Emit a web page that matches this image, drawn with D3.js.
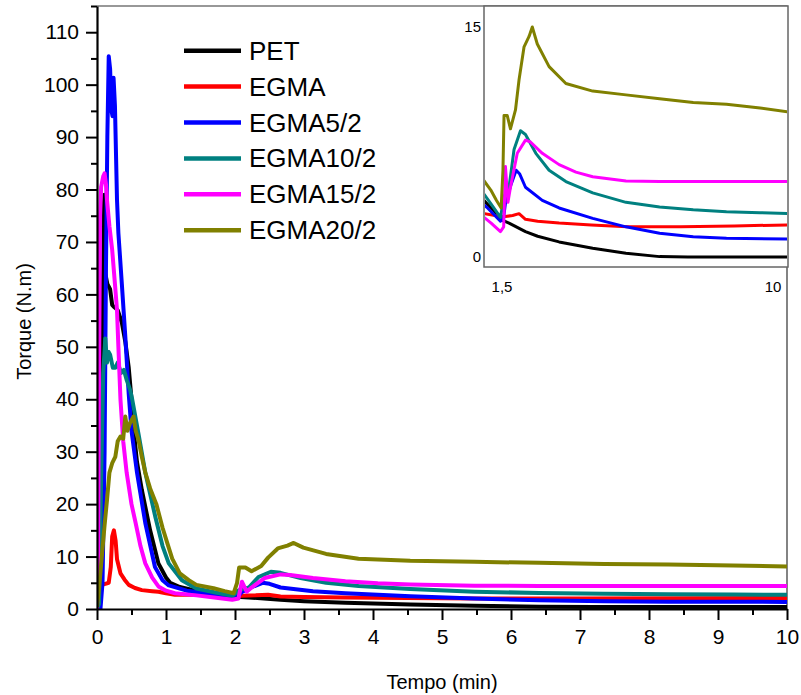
<!DOCTYPE html>
<html>
<head>
<meta charset="utf-8">
<script src="https://cdn.jsdelivr.net/npm/d3@7"></script>
<style>
  body { margin: 0; background: #fff; }
  svg { font-family: "Liberation Sans", Arial, sans-serif; }
</style>
</head>
<body>
<div id="chart"></div>
<script>
// data: [tempo (min), torque (N.m)]
var seriesNames = ["PET", "EGMA", "EGMA5/2", "EGMA10/2", "EGMA15/2", "EGMA20/2"];
var seriesColors = ["#000000", "#ff0000", "#0000ff", "#008080", "#ff00ff", "#808000"];

var petData = [[0,0],[0.03,0.5],[0.06,20],[0.085,60],[0.1,77],[0.106,79],[0.115,70],[0.12,64],[0.15,62],[0.19,61],[0.22,58],[0.24,57.7],[0.3,57],[0.36,54.6],[0.41,51],[0.46,46],[0.5,40],[0.54,33],[0.58,28],[0.65,22.7],[0.77,15],[0.89,8.7],[1.0,6],[1.06,5],[1.2,4.2],[1.4,3.6],[1.6,3.2],[1.8,2.8],[1.96,2.4],[2.2,2.2],[2.66,1.75],[3.0,1.5],[3.6,1.2],[4.54,0.86],[5.47,0.6],[6.41,0.42],[7.2,0.4],[10,0.4]];
var egmaData = [[0,0],[0.03,2],[0.07,4.6],[0.12,4.8],[0.17,5],[0.2,8],[0.22,13.8],[0.245,15],[0.27,13],[0.29,9.5],[0.34,6.8],[0.4,5.6],[0.46,4.6],[0.55,4],[0.65,3.6],[0.8,3.4],[0.89,3.3],[1.0,3.0],[1.13,2.7],[1.5,2.7],[1.96,2.55],[2.1,2.55],[2.3,2.6],[2.48,2.7],[2.66,2.4],[3.0,2.3],[3.6,2.2],[4.5,2.1],[5.5,2.0],[7,2.0],[8.5,2.05],[10,2.1]];
var egma5Data = [[0,0],[0.05,0],[0.08,5],[0.11,30],[0.13,65],[0.15,90],[0.17,105.4],[0.19,103],[0.21,95],[0.225,94],[0.24,101.3],[0.26,96],[0.29,78],[0.31,71.7],[0.36,62],[0.41,52],[0.46,41],[0.5,34],[0.58,26],[0.7,16.4],[0.84,8],[0.95,5.5],[1.04,4.5],[1.3,3.5],[1.6,3.0],[1.96,2.3],[2.05,2.5],[2.1,3.25],[2.25,4.2],[2.4,5.0],[2.5,4.8],[2.66,4.1],[3.13,3.4],[3.6,3.0],[4.54,2.45],[5.47,2.0],[6.41,1.66],[7.35,1.48],[8.28,1.4],[10,1.35]];
var egma10Data = [[0,0],[0.03,1],[0.06,25],[0.09,45],[0.12,51.6],[0.145,47],[0.17,49],[0.19,48.5],[0.23,46],[0.265,46],[0.3,47],[0.35,45],[0.39,45.6],[0.43,43.7],[0.48,41.8],[0.51,40],[0.6,33.5],[0.7,26],[0.845,17.6],[0.95,12],[1.04,8.7],[1.23,5.5],[1.44,3.9],[1.7,3.2],[1.96,2.5],[2.06,3.6],[2.2,4.1],[2.34,6.1],[2.52,7.1],[2.66,6.9],[2.95,5.9],[3.32,5.0],[3.79,4.4],[4.54,3.8],[5.47,3.3],[6.41,3.05],[7.35,2.9],[8.28,2.8],[9.22,2.75],[10,2.7]];
var egma15Data = [[0,0],[0.015,10],[0.03,45],[0.045,75],[0.06,80.5],[0.09,82.5],[0.11,83.1],[0.13,81],[0.145,78],[0.18,73],[0.22,68.5],[0.26,62],[0.29,57],[0.31,50],[0.34,40],[0.38,32],[0.43,26],[0.5,20],[0.56,16.4],[0.63,12],[0.7,8.7],[0.8,6],[0.89,4.3],[1.0,3.5],[1.13,3.0],[1.44,2.6],[1.7,2.2],[1.96,1.75],[2.05,2.0],[2.1,5.2],[2.17,3.3],[2.24,4.1],[2.43,5.9],[2.66,6.6],[2.8,6.5],[3.13,5.9],[3.6,5.3],[4.07,4.9],[4.54,4.66],[5.47,4.43],[6.41,4.4],[10,4.4]];
var egma20Data = [[0,0.4],[0.03,4],[0.07,10],[0.11,16],[0.145,20.8],[0.18,26],[0.22,27.8],[0.265,29],[0.3,32],[0.34,32.9],[0.38,32.5],[0.41,36.7],[0.44,34],[0.48,35.5],[0.53,36.7],[0.56,34],[0.6,32.3],[0.65,29],[0.7,26],[0.77,23],[0.86,20],[0.95,15.5],[1.02,12.5],[1.09,9.6],[1.2,6.8],[1.33,5.5],[1.44,4.6],[1.69,3.95],[1.85,3.4],[1.98,3.0],[2.03,5],[2.06,7.9],[2.15,7.9],[2.24,7.2],[2.38,8.2],[2.48,9.8],[2.62,11.55],[2.76,12.1],[2.85,12.6],[2.99,11.7],[3.32,10.5],[3.79,9.6],[4.54,9.2],[5.47,9.0],[6.41,8.8],[7.35,8.6],[8.28,8.5],[9.22,8.3],[10,8.1]];
var allData = [petData, egmaData, egma5Data, egma10Data, egma15Data, egma20Data];

var xTicks = [0,1,2,3,4,5,6,7,8,9,10];
var xMinor = [0.5,1.5,2.5,3.5,4.5,5.5,6.5,7.5,8.5,9.5];
var yTicks = [0,10,20,30,40,50,60,70,80,90,100,110];
var yMinor = [5,15,25,35,45,55,65,75,85,95,105,115];
var insetLabelsX = ["1,5", "10"];
var insetLabelsY = ["15", "0"];

var svgWidth = 801, svgHeight = 695;
var plotLeft = 97, plotRight = 787, plotTop = 6, plotBottom = 609;

var svg = d3.select("#chart").append("svg")
    .attr("width", svgWidth)
    .attr("height", svgHeight);

var x = d3.scaleLinear().domain([0, 10]).range([plotLeft, plotRight]);
var y = d3.scaleLinear().domain([0, 115]).range([plotBottom, plotTop]);

// frame
svg.append("path")
    .attr("d", `M${plotLeft},${plotTop}H${plotRight}V${plotBottom}`)
    .attr("fill", "none")
    .attr("stroke", "#333")
    .attr("stroke-width", 1.2);

// inset box (zoom on 1.5 - 10 min)
var ix = d3.scaleLinear().domain([1.5, 10]).range([484, 788]);
var iy = d3.scaleLinear().domain([0.4, 12.6]).range([257, 27]);

var defs = svg.append("defs");
defs.append("clipPath").attr("id", "insetClip")
    .append("rect").attr("x", 485).attr("y", 7).attr("width", 302).attr("height", 259);
defs.append("clipPath").attr("id", "mainClip")
    .append("rect").attr("x", plotLeft).attr("y", plotTop)
    .attr("width", plotRight - plotLeft).attr("height", plotBottom - plotTop);

var mainLine = d3.line().x(d => x(d[0])).y(d => y(d[1]));
var insetLine = d3.line().x(d => ix(d[0])).y(d => iy(d[1]));

var mainG = svg.append("g").attr("clip-path", "url(#mainClip)");
allData.forEach(function(data, i) {
    mainG.append("path")
        .datum(data)
        .attr("d", mainLine)
        .attr("fill", "none")
        .attr("stroke", seriesColors[i])
        .attr("stroke-width", 4)
        .attr("stroke-linejoin", "round");
});

svg.append("rect")
    .attr("x", 484).attr("y", 6).attr("width", 304).attr("height", 261)
    .attr("fill", "#fff")
    .attr("stroke", "#666")
    .attr("stroke-width", 1.5);

var insetG = svg.append("g").attr("clip-path", "url(#insetClip)");
allData.forEach(function(data, i) {
    insetG.append("path")
        .datum(data.filter(d => d[0] >= 1.3))
        .attr("d", insetLine)
        .attr("fill", "none")
        .attr("stroke", seriesColors[i])
        .attr("stroke-width", 3)
        .attr("stroke-linejoin", "round");
});

// inset labels
svg.append("text").attr("x", 481).attr("y", 32).attr("text-anchor", "end")
    .style("font-size", "15px").text(insetLabelsY[0]);
svg.append("text").attr("x", 481).attr("y", 262).attr("text-anchor", "end")
    .style("font-size", "15px").text(insetLabelsY[1]);
svg.append("text").attr("x", ix(1.5) + 18).attr("y", 292).attr("text-anchor", "middle")
    .style("font-size", "15px").text(insetLabelsX[0]);
svg.append("text").attr("x", ix(10) - 15).attr("y", 292).attr("text-anchor", "middle")
    .style("font-size", "15px").text(insetLabelsX[1]);

// axes
svg.append("g")
    .attr("transform", `translate(0, ${plotBottom})`)
    .call(d3.axisBottom(x).tickValues(xTicks).tickSize(11).tickPadding(9).tickSizeOuter(0));
svg.append("g")
    .attr("transform", `translate(0, ${plotBottom})`)
    .call(d3.axisBottom(x).tickValues(xMinor).tickSize(6).tickFormat("").tickSizeOuter(0))
    .select(".domain").remove();
svg.append("g")
    .attr("transform", `translate(${plotLeft}, 0)`)
    .call(d3.axisLeft(y).tickValues(yTicks).tickSize(11).tickPadding(7).tickSizeOuter(0));
svg.append("g")
    .attr("transform", `translate(${plotLeft}, 0)`)
    .call(d3.axisLeft(y).tickValues(yMinor).tickSize(6).tickFormat("").tickSizeOuter(0))
    .select(".domain").remove();

svg.selectAll(".domain").attr("stroke", "#000").attr("stroke-width", 2.2);
svg.selectAll(".tick line").attr("stroke", "#000").attr("stroke-width", 2);
svg.selectAll(".tick text").style("font-size", "21px").style("font-family", "Liberation Sans, Arial, sans-serif").attr("fill", "#000");

// axis titles
svg.append("text")
    .attr("x", (plotLeft + plotRight) / 2)
    .attr("y", 689)
    .attr("text-anchor", "middle")
    .style("font-size", "20px")
    .text("Tempo (min)");
svg.append("text")
    .attr("transform", `translate(31, ${(plotTop + plotBottom) / 2 + 14}) rotate(-90)`)
    .attr("text-anchor", "middle")
    .style("font-size", "20px")
    .text("Torque (N.m)");

// legend
var legend = svg.append("g");
seriesNames.forEach(function(name, i) {
    var ly = 50.7 + i * 35.9;
    legend.append("line")
        .attr("x1", 184).attr("x2", 241)
        .attr("y1", ly).attr("y2", ly)
        .attr("stroke", seriesColors[i])
        .attr("stroke-width", 4.5);
    legend.append("text")
        .attr("x", 249)
        .attr("y", ly + 9)
        .style("font-size", "26px")
        .text(name);
});
</script>
</body>
</html>
